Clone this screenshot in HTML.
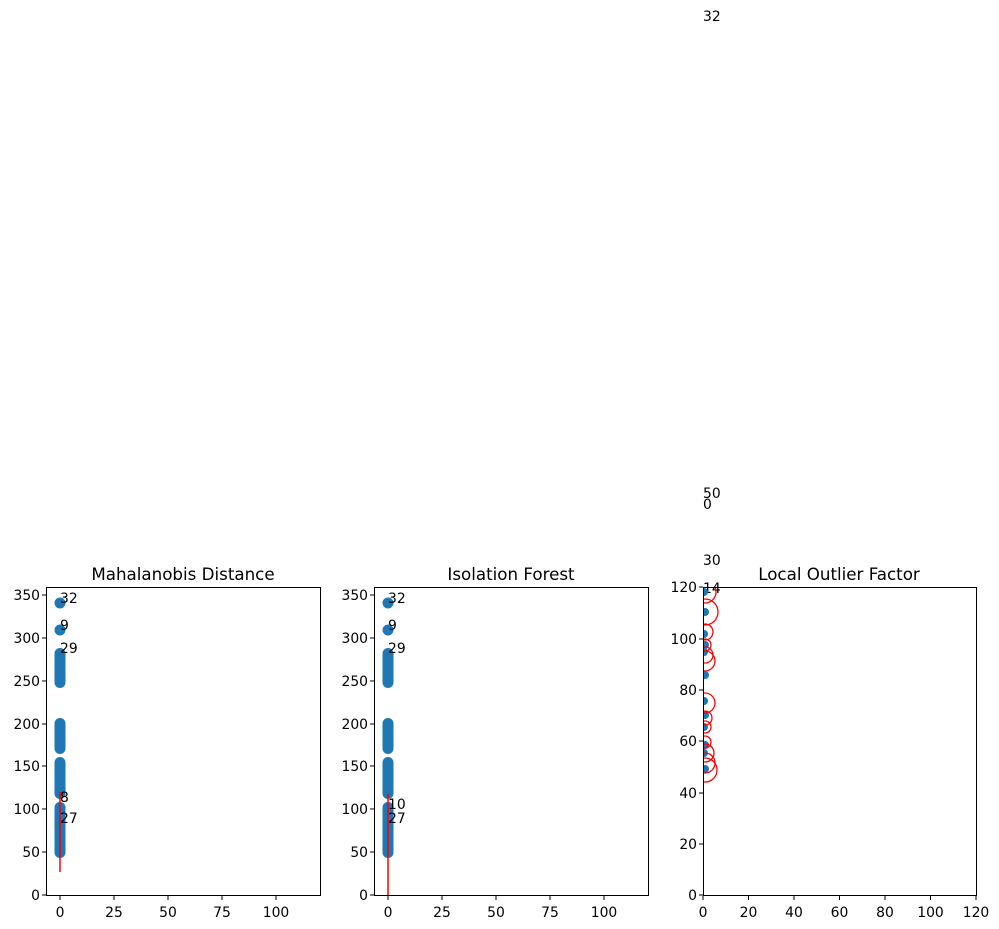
<!DOCTYPE html>
<html><head><meta charset="utf-8"><style>body{margin:0;background:#fff}svg{display:block;font-family:"DejaVu Sans","Liberation Sans",sans-serif}</style></head><body>
<svg width="999" height="929" viewBox="0 0 999 929" xmlns="http://www.w3.org/2000/svg">
<g font-size="13.9" fill="#000">
<!-- Panel 1 -->
<text x="183" y="580" font-size="16.7" text-anchor="middle">Mahalanobis Distance</text>
<g transform="translate(60,0)">
<circle cx="0" cy="603" r="5.5" fill="#1f77b4"/><circle cx="0" cy="630" r="5.5" fill="#1f77b4"/>
<rect x="-5.5" y="648" width="11" height="40" rx="5.5" fill="#1f77b4"/>
<rect x="-5.5" y="718" width="11" height="36" rx="5.5" fill="#1f77b4"/>
<rect x="-5.5" y="757" width="11" height="42" rx="5.5" fill="#1f77b4"/>
<rect x="-5.5" y="802" width="11" height="56" rx="5.5" fill="#1f77b4"/>
<line x1="0" y1="792" x2="0" y2="872" stroke="red" stroke-width="1.5"/>
</g>
<text x="60" y="603">32</text><text x="60" y="630">9</text><text x="60" y="653">29</text><text x="60" y="802">8</text><text x="60" y="823">27</text>
<rect x="46.5" y="587.5" width="274" height="308" fill="none" stroke="#000"/>
<g stroke="#000"><line x1="46" y1="895" x2="42" y2="895"/><line x1="46" y1="852" x2="42" y2="852"/><line x1="46" y1="809" x2="42" y2="809"/><line x1="46" y1="766" x2="42" y2="766"/><line x1="46" y1="724" x2="42" y2="724"/><line x1="46" y1="681" x2="42" y2="681"/><line x1="46" y1="638" x2="42" y2="638"/><line x1="46" y1="595" x2="42" y2="595"/>
<line x1="60" y1="896" x2="60" y2="900"/><line x1="114" y1="896" x2="114" y2="900"/><line x1="168" y1="896" x2="168" y2="900"/><line x1="222" y1="896" x2="222" y2="900"/><line x1="276" y1="896" x2="276" y2="900"/></g>
<g text-anchor="end"><text x="40" y="900">0</text><text x="40" y="857">50</text><text x="40" y="814">100</text><text x="40" y="771">150</text><text x="40" y="729">200</text><text x="40" y="686">250</text><text x="40" y="643">300</text><text x="40" y="600">350</text></g>
<g text-anchor="middle"><text x="60" y="917">0</text><text x="114" y="917">25</text><text x="168" y="917">50</text><text x="222" y="917">75</text><text x="276" y="917">100</text></g>

<!-- Panel 2 -->
<text x="511" y="580" font-size="16.7" text-anchor="middle">Isolation Forest</text>
<g transform="translate(388,0)">
<circle cx="0" cy="603" r="5.5" fill="#1f77b4"/><circle cx="0" cy="630" r="5.5" fill="#1f77b4"/>
<rect x="-5.5" y="648" width="11" height="40" rx="5.5" fill="#1f77b4"/>
<rect x="-5.5" y="718" width="11" height="36" rx="5.5" fill="#1f77b4"/>
<rect x="-5.5" y="757" width="11" height="42" rx="5.5" fill="#1f77b4"/>
<rect x="-5.5" y="802" width="11" height="56" rx="5.5" fill="#1f77b4"/>
<line x1="0" y1="794" x2="0" y2="895" stroke="red" stroke-width="1.5"/>
</g>
<text x="388" y="603">32</text><text x="388" y="630">9</text><text x="388" y="653">29</text><text x="388" y="809">10</text><text x="388" y="823">27</text>
<rect x="374.5" y="587.5" width="274" height="308" fill="none" stroke="#000"/>
<g stroke="#000"><line x1="374" y1="895" x2="370" y2="895"/><line x1="374" y1="852" x2="370" y2="852"/><line x1="374" y1="809" x2="370" y2="809"/><line x1="374" y1="766" x2="370" y2="766"/><line x1="374" y1="724" x2="370" y2="724"/><line x1="374" y1="681" x2="370" y2="681"/><line x1="374" y1="638" x2="370" y2="638"/><line x1="374" y1="595" x2="370" y2="595"/>
<line x1="388" y1="896" x2="388" y2="900"/><line x1="442" y1="896" x2="442" y2="900"/><line x1="496" y1="896" x2="496" y2="900"/><line x1="550" y1="896" x2="550" y2="900"/><line x1="604" y1="896" x2="604" y2="900"/></g>
<g text-anchor="end"><text x="368" y="900">0</text><text x="368" y="857">50</text><text x="368" y="814">100</text><text x="368" y="771">150</text><text x="368" y="729">200</text><text x="368" y="686">250</text><text x="368" y="643">300</text><text x="368" y="600">350</text></g>
<g text-anchor="middle"><text x="388" y="917">0</text><text x="442" y="917">25</text><text x="496" y="917">50</text><text x="550" y="917">75</text><text x="604" y="917">100</text></g>

<!-- Panel 3 -->
<text x="839" y="580" font-size="16.7" text-anchor="middle">Local Outlier Factor</text>
<text x="703" y="21">32</text><text x="703" y="498">50</text><text x="703" y="509">0</text><text x="703" y="565">30</text><text x="703" y="593">14</text>
<svg x="703" y="587" width="274" height="309" overflow="hidden">
<g fill="#1f77b4"><circle cx="1" cy="5" r="4"/><circle cx="2" cy="25" r="4"/><circle cx="1" cy="47" r="4"/><circle cx="2" cy="58" r="4"/><circle cx="1" cy="65" r="4"/><circle cx="2" cy="88" r="4"/><circle cx="1" cy="114" r="4"/><circle cx="2" cy="128" r="4"/><circle cx="1" cy="140" r="4"/><circle cx="2" cy="158" r="4"/><circle cx="1" cy="166" r="4"/><circle cx="2" cy="182" r="4"/></g>
<g fill="none" stroke="red" stroke-width="1.3"><circle cx="2" cy="5" r="11"/><circle cx="2" cy="25" r="13"/><circle cx="2" cy="45" r="8"/><circle cx="2" cy="58" r="6"/><circle cx="2" cy="68" r="8"/><circle cx="2" cy="74" r="10"/><circle cx="2" cy="116" r="10"/><circle cx="2" cy="131" r="7"/><circle cx="2" cy="140" r="6"/><circle cx="2" cy="155" r="6"/><circle cx="2" cy="166" r="9"/><circle cx="2" cy="176" r="10"/><circle cx="2" cy="183" r="12"/></g>
</svg>
<rect x="703.5" y="587.5" width="273" height="308" fill="none" stroke="#000"/>
<g stroke="#000"><line x1="703" y1="895" x2="699" y2="895"/><line x1="703" y1="844" x2="699" y2="844"/><line x1="703" y1="793" x2="699" y2="793"/><line x1="703" y1="741" x2="699" y2="741"/><line x1="703" y1="690" x2="699" y2="690"/><line x1="703" y1="639" x2="699" y2="639"/><line x1="703" y1="587" x2="699" y2="587"/>
<line x1="703" y1="896" x2="703" y2="900"/><line x1="748.5" y1="896" x2="748.5" y2="900"/><line x1="794" y1="896" x2="794" y2="900"/><line x1="839.5" y1="896" x2="839.5" y2="900"/><line x1="885" y1="896" x2="885" y2="900"/><line x1="930.5" y1="896" x2="930.5" y2="900"/><line x1="976" y1="896" x2="976" y2="900"/></g>
<g text-anchor="end"><text x="697" y="900">0</text><text x="697" y="849">20</text><text x="697" y="798">40</text><text x="697" y="746">60</text><text x="697" y="695">80</text><text x="697" y="644">100</text><text x="697" y="592">120</text></g>
<g text-anchor="middle"><text x="703" y="917">0</text><text x="748.5" y="917">20</text><text x="794" y="917">40</text><text x="839.5" y="917">60</text><text x="885" y="917">80</text><text x="930.5" y="917">100</text><text x="976" y="917">120</text></g>
</g>
</svg>
</body></html>
